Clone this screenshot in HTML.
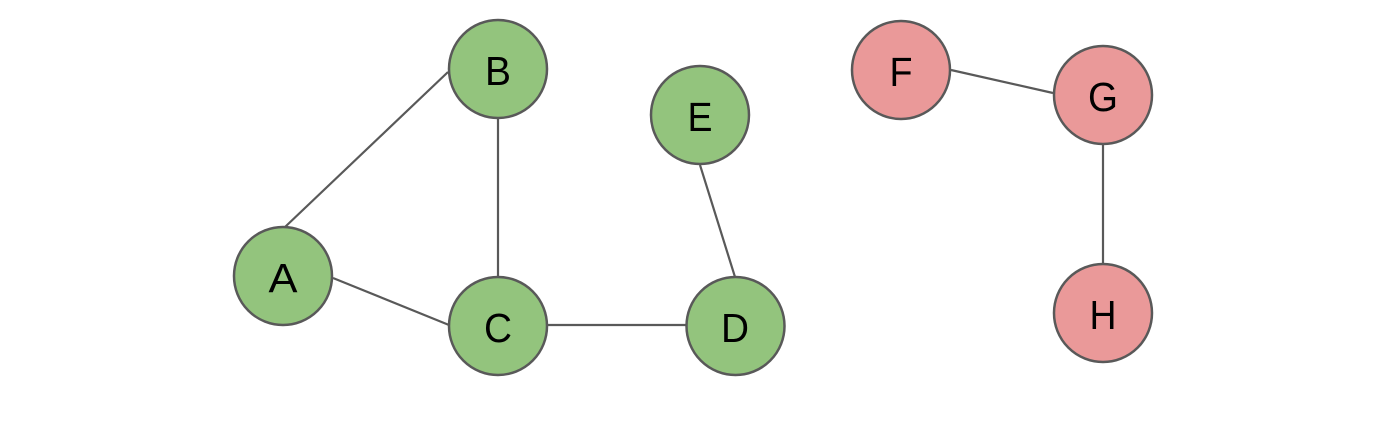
<!DOCTYPE html>
<html><head><style>html,body{margin:0;padding:0;background:#fff;width:1400px;height:440px;overflow:hidden}</style></head>
<body>
<svg width="1400" height="440" xmlns="http://www.w3.org/2000/svg" font-family="Liberation Sans, sans-serif">
<g stroke="#595959" stroke-width="2.2" fill="none">
<line x1="285" y1="227" x2="448" y2="72"/>
<line x1="333" y1="278" x2="449" y2="325"/>
<line x1="498" y1="118" x2="498" y2="277"/>
<line x1="548" y1="325" x2="686" y2="325"/>
<line x1="700" y1="165" x2="735" y2="277"/>
<line x1="951" y1="70" x2="1053" y2="93"/>
<line x1="1103" y1="145" x2="1103" y2="264"/>
</g>
<g stroke="#595959" stroke-width="2.5">
<circle cx="283" cy="276" r="49" fill="#93c47d"/>
<circle cx="498" cy="69" r="49" fill="#93c47d"/>
<circle cx="498" cy="326" r="49" fill="#93c47d"/>
<circle cx="735.5" cy="326" r="49" fill="#93c47d"/>
<circle cx="700" cy="115" r="49" fill="#93c47d"/>
<circle cx="901" cy="70" r="49" fill="#ea9999"/>
<circle cx="1103" cy="95" r="49" fill="#ea9999"/>
<circle cx="1103" cy="313" r="49" fill="#ea9999"/>
</g>
<g font-size="41" text-anchor="middle" fill="#000" transform="">
<text x="283" y="292" textLength="29" lengthAdjust="spacingAndGlyphs">A</text>
<text x="498" y="85" textLength="26" lengthAdjust="spacingAndGlyphs">B</text>
<text x="498" y="342" textLength="28" lengthAdjust="spacingAndGlyphs">C</text>
<text x="735" y="342" textLength="28" lengthAdjust="spacingAndGlyphs">D</text>
<text x="700" y="131" textLength="25" lengthAdjust="spacingAndGlyphs">E</text>
<text x="901" y="86" textLength="23" lengthAdjust="spacingAndGlyphs">F</text>
<text x="1103" y="111" textLength="30" lengthAdjust="spacingAndGlyphs">G</text>
<text x="1103" y="329" textLength="27" lengthAdjust="spacingAndGlyphs">H</text>
</g>
</svg>
</body></html>
